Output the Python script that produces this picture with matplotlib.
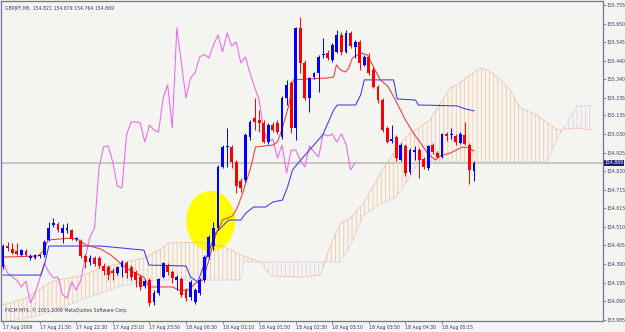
import matplotlib
matplotlib.use("Agg")
import matplotlib.pyplot as plt
import numpy as np
from matplotlib import font_manager
from matplotlib.patches import Ellipse
from matplotlib.transforms import blended_transform_factory

# GBPJPY M5 candles (bar index 0 = 17 Aug 21:10)
opens = [
    154.283, 154.401, 154.384, 154.373, 154.350, 154.373, 154.334, 154.334, 154.345, 154.350,
    154.435, 154.519, 154.525, 154.474, 154.491, 154.491, 154.440, 154.429, 154.345, 154.311,
    154.334, 154.334, 154.289, 154.283, 154.261, 154.249, 154.283, 154.305, 154.283, 154.255,
    154.227, 154.176, 154.210, 154.086, 154.137, 154.227, 154.294, 154.255, 154.210, 154.216,
    154.154, 154.115, 154.086, 154.137, 154.210, 154.339, 154.401, 154.502, 154.845, 154.957,
    154.957, 154.873, 154.766, 154.772, 155.013, 155.120, 155.109, 155.092, 154.985, 155.081,
    155.092, 155.013, 155.232, 155.317, 155.064, 155.626, 155.429, 155.232, 155.350, 155.373,
    155.474, 155.485, 155.446, 155.491, 155.586, 155.491, 155.598, 155.519, 155.547, 155.418,
    155.463, 155.390, 155.294, 155.221, 155.064, 154.991, 155.013, 154.884, 154.963, 154.817,
    154.929, 154.940, 154.890, 154.839, 154.968, 154.923, 154.901, 155.030, 155.025, 155.019,
    154.980, 155.025, 154.968, 154.821]
highs = [
    154.412, 154.423, 154.418, 154.418, 154.384, 154.384, 154.356, 154.356, 154.356, 154.435,
    154.536, 154.558, 154.536, 154.525, 154.530, 154.496, 154.452, 154.440, 154.356, 154.350,
    154.345, 154.345, 154.305, 154.294, 154.277, 154.289, 154.322, 154.316, 154.294, 154.266,
    154.238, 154.216, 154.221, 154.154, 154.221, 154.311, 154.305, 154.266, 154.238, 154.227,
    154.165, 154.210, 154.165, 154.221, 154.350, 154.463, 154.536, 154.856, 154.968, 155.064,
    154.968, 154.884, 154.783, 155.036, 155.109, 155.232, 155.165, 155.109, 155.092, 155.098,
    155.109, 155.244, 155.334, 155.328, 155.631, 155.687, 155.446, 155.350, 155.378, 155.474,
    155.570, 155.502, 155.541, 155.614, 155.603, 155.614, 155.609, 155.558, 155.558, 155.474,
    155.485, 155.407, 155.306, 155.232, 155.075, 155.081, 155.025, 154.980, 154.974, 154.952,
    154.963, 154.952, 154.901, 154.968, 154.980, 154.935, 155.036, 155.041, 155.064, 155.030,
    155.041, 155.098, 154.980, 154.879]
lows = [
    154.272, 154.373, 154.356, 154.350, 154.345, 154.345, 154.322, 154.328, 154.334, 154.339,
    154.429, 154.508, 154.480, 154.418, 154.474, 154.435, 154.429, 154.334, 154.277, 154.294,
    154.289, 154.277, 154.238, 154.210, 154.210, 154.238, 154.227, 154.221, 154.210, 154.171,
    154.154, 154.165, 154.064, 154.070, 154.126, 154.221, 154.238, 154.193, 154.154, 154.115,
    154.092, 154.098, 154.075, 154.126, 154.199, 154.328, 154.378, 154.491, 154.839, 154.845,
    154.839, 154.699, 154.704, 154.761, 154.997, 155.053, 155.041, 154.980, 154.974, 155.041,
    155.030, 155.002, 155.193, 155.036, 154.997, 155.373, 155.221, 155.154, 155.339, 155.266,
    155.457, 155.446, 155.435, 155.485, 155.474, 155.485, 155.513, 155.457, 155.390, 155.412,
    155.362, 155.289, 155.204, 155.041, 154.980, 154.980, 154.878, 154.878, 154.794, 154.805,
    154.884, 154.783, 154.834, 154.828, 154.918, 154.895, 154.895, 154.991, 155.002, 154.968,
    154.974, 154.968, 154.749, 154.764]
closes = [
    154.401, 154.390, 154.362, 154.356, 154.378, 154.350, 154.345, 154.350, 154.347, 154.423,
    154.502, 154.530, 154.491, 154.502, 154.502, 154.440, 154.442, 154.345, 154.311, 154.334,
    154.300, 154.289, 154.261, 154.238, 154.249, 154.283, 154.311, 154.249, 154.227, 154.210,
    154.171, 154.204, 154.081, 154.137, 154.216, 154.305, 154.255, 154.221, 154.227, 154.126,
    154.109, 154.199, 154.154, 154.210, 154.339, 154.452, 154.502, 154.845, 154.957, 154.963,
    154.873, 154.738, 154.727, 155.025, 155.098, 155.098, 155.092, 154.985, 155.081, 155.053,
    155.041, 155.232, 155.306, 155.064, 155.626, 155.429, 155.232, 155.345, 155.373, 155.463,
    155.476, 155.457, 155.530, 155.586, 155.491, 155.598, 155.525, 155.547, 155.429, 155.463,
    155.373, 155.294, 155.221, 155.053, 154.985, 155.002, 154.895, 154.968, 154.811, 154.940,
    154.940, 154.884, 154.845, 154.963, 154.929, 154.901, 155.030, 155.019, 155.030, 154.985,
    155.030, 154.974, 154.828, 154.869]

# Ichimoku lines (bar index, price)
tenkan_x = [0, 7.6, 9.0, 9.8, 14.9, 16.6, 18.1, 21.4, 23.6, 26.9, 29.0, 30.8, 31.9, 37.1,
            38.4, 40.6, 42.1, 43.7, 45.0, 46.5, 48.0, 50.2, 51.3, 52.4, 54.2, 55.2, 59.0,
            60.0, 61.1, 62.5, 63.5, 71.0, 72.3, 72.9, 73.8, 74.9, 75.6, 76.4, 78.2, 79.7,
            81.0, 82.5, 84.1, 85.8, 88.0, 89.7, 91.3, 92.8, 94.5, 95.6, 97.8, 100.4, 101.8, 103]
tenkan_y = [154.339, 154.345, 154.378, 154.435, 154.446, 154.435, 154.407, 154.384, 154.350,
            154.277, 154.249, 154.227, 154.171, 154.171, 154.154, 154.154, 154.193, 154.210,
            154.322, 154.463, 154.547, 154.570, 154.620, 154.699, 154.845, 154.957, 154.968,
            154.985, 155.064, 155.193, 155.334, 155.345, 155.350, 155.418, 155.390, 155.378,
            155.401, 155.457, 155.485, 155.474, 155.407, 155.334, 155.300, 155.221, 155.109,
            155.036, 154.980, 154.923, 154.884, 154.907, 154.923, 154.957, 154.952, 154.935]
kijun_x = [0, 8.3, 9.2, 10.0, 21.4, 30.8, 31.9, 40.0, 41.0, 42.6, 44.3, 46.5, 49.3, 52.0,
           53.1, 54.8, 57.4, 59.0, 61.1, 62.2, 63.3, 65.1, 69.9, 72.3, 73.1, 77.1, 78.2,
           79.0, 85.4, 86.2, 90.2, 90.8, 99.3, 101.1, 103]
kijun_y = [154.238, 154.238, 154.311, 154.401, 154.401, 154.378, 154.294, 154.289, 154.227,
           154.199, 154.322, 154.474, 154.547, 154.547, 154.586, 154.620, 154.620, 154.648,
           154.659, 154.732, 154.828, 154.884, 155.025, 155.165, 155.193, 155.193, 155.249,
           155.334, 155.334, 155.227, 155.221, 155.193, 155.188, 155.171, 155.160]
cloud_x = [0, 5.0, 9.4, 11.6, 17.0, 21.4, 25.8, 30.8, 34.5, 36.2, 43.2, 48.0, 52.0, 52.6,
           56.3, 58.5, 65.1, 69.4, 71.6, 73.8, 76.0, 78.8, 83.0, 85.8, 88.6, 90.8, 93.4,
           95.0, 97.8, 99.3, 101.5, 104.4, 105.9, 108.1, 110.9, 113.1, 116.8, 119.0, 121.2,
           123.2, 125.5, 128.4, 129.0]
span_a = [154.070, 154.109, 154.182, 154.210, 154.233, 154.277, 154.305, 154.334, 154.384,
          154.418, 154.423, 154.401, 154.350, 154.345, 154.311, 154.233, 154.227, 154.238,
          154.407, 154.530, 154.558, 154.642, 154.828, 154.940, 155.025, 155.064, 155.109,
          155.176, 155.289, 155.306, 155.350, 155.401, 155.390, 155.350, 155.277, 155.176,
          155.137, 155.092, 155.053, 155.058, 155.064, 155.053, 155.053]
span_b = [153.974, 153.996, 154.024, 154.041, 154.098, 154.137, 154.176, 154.204, 154.210,
          154.210, 154.210, 154.210, 154.210, 154.311, 154.311, 154.311, 154.311, 154.311,
          154.311, 154.311, 154.407, 154.575, 154.642, 154.671, 154.772, 154.873, 154.873,
          154.873, 154.873, 154.873, 154.873, 154.873, 154.873, 154.873, 154.873, 154.873,
          154.873, 154.873, 155.008, 155.086, 155.188, 155.188, 155.188]

price_ticks = [155.755, 155.650, 155.545, 155.440, 155.340, 155.235, 155.135, 155.030,
               154.925, 154.820, 154.715, 154.615, 154.510, 154.405, 154.300, 154.195,
               154.090, 153.985]
time_ticks = [0, 8, 16, 24, 32, 40, 48, 56, 64, 72, 80, 88, 96]
time_labels = ["17 Aug 2009", "17 Aug 21:50", "17 Aug 22:30", "17 Aug 23:10", "17 Aug 23:50",
               "18 Aug 00:30", "18 Aug 01:10", "18 Aug 01:50", "18 Aug 02:30", "18 Aug 03:10",
               "18 Aug 03:50", "18 Aug 04:30", "18 Aug 05:15"]
last_price = 154.869

BG = "#F4F4F0"
FRAME = "#7474A4"
TXT = "#3A3A62"
BULL, BEAR = "#0000FF", "#FF0000"
SANDY, THISTLE = "#F2A870", "#D9B8D9"

# the terminal uses a narrow bitmap font; take a narrow face if there is one
installed = {f.name for f in font_manager.fontManager.ttflist}
if "Liberation Sans Narrow" in installed:
    plt.rcParams["font.family"] = ["Liberation Sans Narrow", "DejaVu Sans"]
    FS = 4.2
else:
    plt.rcParams["font.family"] = ["DejaVu Sans"]
    FS = 3.3
plt.rcParams["hatch.linewidth"] = 0.5

W, H = 625, 332
fig = plt.figure(figsize=(W / 100, H / 100), dpi=100, facecolor=BG)
ax = fig.add_axes([1 / W, 11 / H, 602 / W, 320 / H])
ax.set_facecolor(BG)
ax.set_xlim(-0.45, 131.2)
ax.set_ylim(153.980, 155.777)

# marked area
ax.add_patch(Ellipse((45.4, 154.541), width=10.7, height=0.34, color="#FFFF00", lw=0, zorder=0.5))

# kumo
cx = np.array(cloud_x)
sa = np.array(span_a)
sb = np.array(span_b)
ax.fill_between(cx, sa, sb, where=sa >= sb, interpolate=True, facecolor="none",
                edgecolor="#F5C09C", hatch="||||", lw=0, zorder=1)
ax.fill_between(cx, sa, sb, where=sa < sb, interpolate=True, facecolor="none",
                edgecolor="#E2CCE2", hatch="||||", lw=0, zorder=1)
ax.plot(cx, sa, color=SANDY, ls=(0, (1, 1)), lw=0.7, zorder=1.2)
ax.plot(cx, sb, color=THISTLE, ls=(0, (1, 1)), lw=0.7, zorder=1.2)

ax.axhline(last_price, color="#C8C8C8", lw=1.5, zorder=2)

idx = np.arange(len(closes))
o, h, l, c = map(np.array, (opens, highs, lows, closes))
ax.plot(idx - 26, c, color="#EE66EE", lw=0.75, zorder=3)          # chikou
ax.plot(kijun_x, kijun_y, color="#3A3AF0", lw=0.75, zorder=3)       # kijun
ax.plot(tenkan_x, tenkan_y, color="#F03A3A", lw=0.75, zorder=3)     # tenkan

cols = np.where(c >= o, BULL, BEAR)
ax.vlines(idx, l, h, colors=cols, lw=0.7, zorder=4)
body = np.maximum(np.abs(c - o), 0.004)
ax.bar(idx, body, bottom=np.minimum(o, c), width=0.62, color=cols, lw=0, zorder=5)

# axes look
for s in ax.spines.values():
    s.set_color(FRAME)
    s.set_linewidth(0.9)
ax.yaxis.tick_right()
ax.set_yticks(price_ticks)
ax.set_yticklabels([f"{p:.3f}" for p in price_ticks])
ax.set_xticks(time_ticks)
ax.set_xticklabels(time_labels, ha="left")
ax.tick_params(axis="both", length=2, width=0.6, color=FRAME, labelcolor=TXT, labelsize=FS)
ax.tick_params(axis="x", pad=1)
ax.tick_params(axis="y", pad=0.6)

ax.text(0.006, 0.985, "GBPJPY,M5  154.821 154.879 154.764 154.869", transform=ax.transAxes,
        ha="left", va="top", fontsize=FS, color=TXT)
ax.text(0.006, 0.035, "FXCM MT4, \u00a9 2001-2009 MetaQuotes Software Corp.",
        transform=ax.transAxes, ha="left", va="center", fontsize=FS, color=TXT)
tr = blended_transform_factory(ax.transAxes, ax.transData)
ax.text(1.003, last_price, f"{last_price:.3f}", transform=tr, ha="left", va="center",
        fontsize=FS, color="white", clip_on=False,
        bbox=dict(boxstyle="square,pad=0.12", fc="#1E1E6E", ec="none"))

fig.savefig("out.png", dpi=100, facecolor=BG)
